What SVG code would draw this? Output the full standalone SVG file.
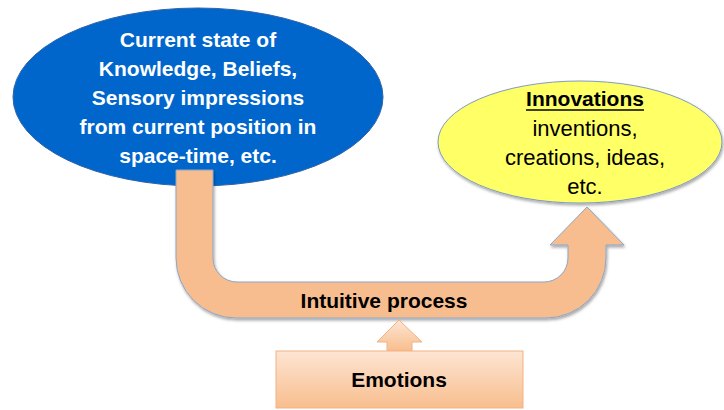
<svg xmlns="http://www.w3.org/2000/svg" width="724" height="410" viewBox="0 0 724 410">
  <style>
    .bold { font-family: "Liberation Sans", Arial, sans-serif; font-weight: bold; font-size: 21px; text-anchor: middle; }
    .reg { font-family: "Liberation Sans", Arial, sans-serif; font-size: 22px; text-anchor: middle; fill: #000; }
    .white { fill: #ffffff; }
    .black { fill: #000000; }
  </style>
  <defs>
    <filter id="shadow" x="-10%" y="-10%" width="120%" height="130%">
      <feGaussianBlur in="SourceAlpha" stdDeviation="1.5"/>
      <feOffset dx="1" dy="2" result="b"/>
      <feComponentTransfer><feFuncA type="linear" slope="0.35"/></feComponentTransfer>
      <feMerge><feMergeNode/><feMergeNode in="SourceGraphic"/></feMerge>
    </filter>
    <linearGradient id="peach" x1="0" y1="0" x2="0" y2="1">
      <stop offset="0" stop-color="#FDE5D3"/>
      <stop offset="1" stop-color="#F8BE8E"/>
    </linearGradient>
  </defs>

  <!-- source node -->
  <g id="state">
    <ellipse cx="198" cy="97" rx="185" ry="89" fill="#0066CC" stroke="#2F63A8" stroke-width="1"/>
    <text class="bold white" x="198" y="47">Current state of</text>
    <text class="bold white" x="198" y="76">Knowledge, Beliefs,</text>
    <text class="bold white" x="198" y="105">Sensory impressions</text>
    <text class="bold white" x="198" y="134">from current position in</text>
    <text class="bold white" x="198" y="163">space-time, etc.</text>
  </g>

  <!-- target node -->
  <g id="innovations">
    <ellipse cx="580" cy="142" rx="142" ry="61" fill="#FFFF66" stroke="#7F9CC0" stroke-width="1" filter="url(#shadow)"/>
    <text class="bold black" x="585" y="106">Innovations</text>
    <line x1="526" y1="110" x2="644" y2="110" stroke="#000" stroke-width="1.5"/>
    <text class="reg" x="585" y="136">inventions,</text>
    <text class="reg" x="585" y="165">creations, ideas,</text>
    <text class="reg" x="585" y="194">etc.</text>
  </g>

  <!-- connectors -->
  <g id="connectors">
    <path id="process-arrow" d="M176,170 L176,258 A60,60 0 0 0 236,318 L546,318 A60,60 0 0 0 606,258 L606,245 L624,245 L587,207 L550,245 L568,245 L568,258 A24,24 0 0 1 544,282 L237,282 A24,24 0 0 1 213,258 L213,170 Z"
          fill="#F8BD8E" stroke="#8CA6C6" stroke-width="1" filter="url(#shadow)"/>
    <path id="emotion-arrow" d="M399,320 L422,342 L412,342 L412,351 L387,351 L387,342 L377,342 Z"
          fill="url(#peach)" stroke="#F4B183" stroke-width="1"/>
  </g>

  <g id="intuitive">
    <text class="bold black" x="384" y="308">Intuitive process</text>
  </g>

  <g id="emotions">
    <rect x="276" y="351" width="247" height="57" fill="url(#peach)" stroke="#F4B183" stroke-width="1"/>
    <text class="bold black" x="399" y="387">Emotions</text>
  </g>
</svg>
